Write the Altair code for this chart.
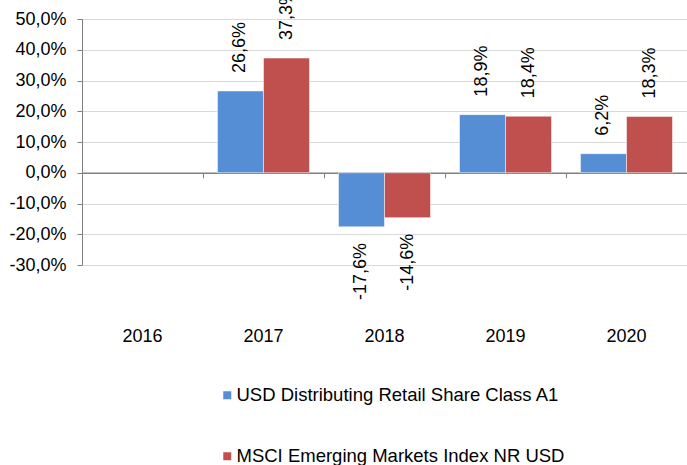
import altair as alt
import pandas as pd

years = ["2016", "2017", "2018", "2019", "2020"]
series = ["USD Distributing Retail Share Class A1", "MSCI Emerging Markets Index NR USD"]
fund = [None, 26.6, -17.6, 18.9, 6.2]
index = [None, 37.3, -14.6, 18.4, 18.3]
colors = ["#558ED5", "#C0504D"]
y_ticks = [-30, -20, -10, 0, 10, 20, 30, 40, 50]

rows = []
for vals, name in ((fund, series[0]), (index, series[1])):
    for yr, v in zip(years, vals):
        if v is not None:
            rows.append({"year": yr, "series": name, "value": v})
df = pd.DataFrame(rows)

FONT = "Liberation Sans"
fmt = "replace(replace(format(datum.value, '.1f'), '.', ','), '\u2212', '-') + '%'"

x = alt.X("year:N", scale=alt.Scale(domain=years, paddingInner=0, paddingOuter=0),
          axis=alt.Axis(title=None, labelAngle=0, offset=-92.25, domainColor="#808080",
                        domainWidth=1.5, tickColor="#808080", tickSize=5, bandPosition=0,
                        labelPadding=150, labelFontSize=18, labelFont=FONT, labelColor="#000000",
                        labelOverlap=False, grid=False))
xo = alt.XOffset("series:N", sort=series, scale=alt.Scale(domain=series, paddingOuter=0.315, paddingInner=0))
y = alt.Y("value:Q", scale=alt.Scale(domain=[-30, 50], nice=False, zero=False),
          axis=alt.Axis(title=None, values=y_ticks, tickCount=9, labelExpr=fmt, labelFontSize=18,
                        labelFont=FONT, labelColor="#000000", labelPadding=11, tickSize=5,
                        tickColor="#808080", labelOverlap=False, labelBound=False, labelFlush=False,
                        domainColor="#808080", gridColor="#D9D9D9", gridWidth=1))

base = alt.Chart(df)

bars = base.mark_bar(stroke="#FFFFFF", strokeOpacity=0.5, strokeWidth=1).encode(
    x=x, xOffset=xo, y=y,
    color=alt.Color("series:N", sort=series,
                    scale=alt.Scale(domain=series, range=colors),
                    legend=alt.Legend(title=None, orient="none", legendX=136, legendY=367,
                                      direction="vertical", symbolType="square", symbolSize=64,
                                      symbolStrokeWidth=0, labelFontSize=18.5, labelFont=FONT,
                                      labelColor="#000000", labelOffset=0, rowPadding=42,
                                      padding=0, labelLimit=0)),
)

pos_text = base.transform_filter("datum.value >= 0").transform_calculate(label=fmt).mark_text(
    angle=270, align="left", baseline="middle", dx=18, fontSize=18, font=FONT, color="#000000"
).encode(x=x, xOffset=xo, y=y, text="label:N")

neg_text = base.transform_filter("datum.value < 0").transform_calculate(label=fmt).mark_text(
    angle=270, align="right", baseline="middle", dx=-16, fontSize=18, font=FONT, color="#000000"
).encode(x=x, xOffset=xo, y=y, text="label:N")

chart = alt.layer(bars, pos_text, neg_text).properties(
    width=605, height=246,
    autosize=alt.AutoSizeParams(type="none"),
    padding={"left": 82, "top": 19, "right": 0, "bottom": 200},
).configure_view(stroke=None).configure(background="#FFFFFF")

chart.save("out.html", embed_options={"renderer": "svg", "actions": False})
